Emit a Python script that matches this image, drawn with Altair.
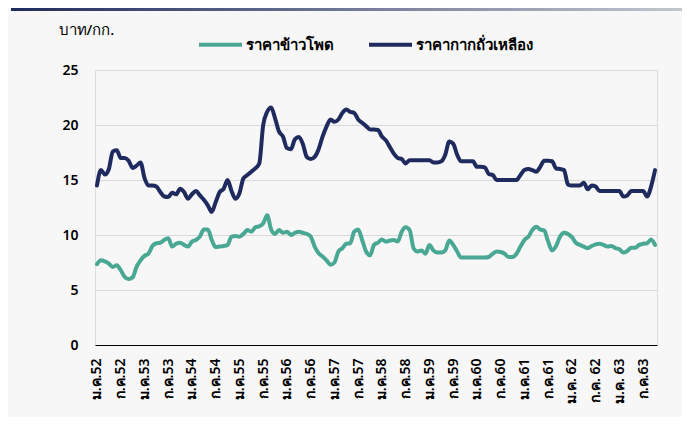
import altair as alt
import pandas as pd

# ---- data ----
series_names = ["ราคาข้าวโพด", "ราคากากถั่วเหลือง"]

corn = [
    7.35, 7.7, 7.6, 7.4, 7.1, 7.25, 6.8, 6.2, 6.0, 6.15, 7.1, 7.7,
    8.1, 8.3, 9.0, 9.25, 9.3, 9.55, 9.7, 8.95, 9.2, 9.3, 9.1, 8.95,
    9.4, 9.55, 9.85, 10.5, 10.5, 9.55, 8.9, 8.95, 9.0, 9.1, 9.85, 9.9,
    9.85, 10.1, 10.45, 10.3, 10.7, 10.8, 11.05, 11.8, 10.5, 10.1, 10.45, 10.2,
    10.3, 10.0, 10.2, 10.3, 10.2, 10.1, 9.85, 8.95, 8.35, 8.05, 7.7, 7.3,
    7.5, 8.5, 8.8, 9.2, 9.25, 10.3, 10.5, 9.55, 8.5, 8.15, 9.1, 9.3,
    9.6, 9.4, 9.5, 9.55, 9.4, 10.3, 10.7, 10.45, 8.8, 8.5, 8.6, 8.3,
    9.1, 8.6, 8.4, 8.4, 8.6, 9.5, 9.1, 8.5, 7.95, 7.95, 7.95, 7.95,
    7.95, 7.95, 7.95, 8.0, 8.3, 8.5, 8.45, 8.3, 8.0, 8.0, 8.3, 8.95,
    9.55, 9.85, 10.45, 10.75, 10.5, 10.4, 9.4, 8.6, 9.0, 9.85, 10.2, 10.1,
    9.8, 9.3, 9.1, 8.95, 8.8, 9.0, 9.15, 9.2, 9.1, 8.95, 9.0, 8.8,
    8.7, 8.4, 8.55, 8.85, 8.85, 9.1, 9.2, 9.25, 9.6, 9.1,
]

soymeal = [
    14.5, 15.9, 15.5, 16.0, 17.6, 17.7, 17.0, 17.0, 16.75, 16.1, 16.3, 16.6,
    15.2, 14.5, 14.5, 14.4, 13.9, 13.5, 13.45, 13.85, 13.7, 14.2, 13.9, 13.3,
    13.7, 14.0, 13.6, 13.2, 12.7, 12.1, 13.0, 13.9, 14.2, 15.0, 14.0, 13.3,
    13.8, 15.15, 15.45, 15.75, 16.05, 16.5, 20.0, 21.2, 21.6, 20.6, 19.4, 18.95,
    17.9, 17.8, 18.7, 18.9, 18.3, 17.1, 16.9, 17.1, 17.8, 18.95, 19.85, 20.5,
    20.3, 20.5, 21.1, 21.4, 21.2, 21.1, 20.5, 20.2, 19.9, 19.6, 19.6, 19.55,
    18.95, 18.6, 18.0, 17.4, 17.0, 16.9, 16.5, 16.8, 16.8, 16.8, 16.8, 16.8,
    16.8, 16.6, 16.6, 16.7, 17.3, 18.5, 18.3, 17.3, 16.7, 16.7, 16.7, 16.7,
    16.2, 16.2, 16.15, 15.55, 15.45, 15.0, 15.0, 15.0, 15.0, 15.0, 15.0, 15.45,
    15.9, 16.0, 15.9, 15.75, 16.2, 16.75, 16.75, 16.7, 16.05, 16.0, 15.9, 14.6,
    14.5, 14.5, 14.5, 14.75, 14.15, 14.5, 14.4, 14.0, 14.0, 14.0, 14.0, 14.0,
    14.0, 13.5, 13.6, 14.0, 14.0, 14.0, 14.0, 13.5, 14.4, 15.9,
]

tick_labels = [
    "ม.ค.52", "ก.ค.52", "ม.ค.53", "ก.ค.53", "ม.ค.54", "ก.ค.54",
    "ม.ค.55", "ก.ค.55", "ม.ค.56", "ก.ค.56", "ม.ค.57", "ก.ค.57",
    "ม.ค.58", "ก.ค.58", "ม.ค.59", "ก.ค.59", "ม.ค.60", "ก.ค.60",
    "ม.ค.61", "ก.ค.61", "ม.ค. 62", "ก.ค. 62", "ม.ค. 63", "ก.ค.63",
]

y_ticks = [0, 5, 10, 15, 20, 25]
colors = ["#48a894", "#1f2b5e"]

# ---- tables ----
n = len(corn)
df = pd.DataFrame({
    "idx": list(range(n)) * 2,
    "value": corn + soymeal,
    "series": [series_names[0]] * n + [series_names[1]] * n,
})
tick_pos = [i * 6 for i in range(len(tick_labels))]
label_expr = "[" + ",".join("'" + t + "'" for t in tick_labels) + "][round(datum.value/6)]"

FONT = "Noto Sans"

lines = alt.Chart(df).mark_line(strokeWidth=4, interpolate="monotone", strokeCap="round", strokeJoin="round").encode(
    x=alt.X("idx:Q",
            scale=alt.Scale(domain=[-0.5, n - 0.5], nice=False, zero=False),
            axis=alt.Axis(values=tick_pos, labelExpr=label_expr, labelAngle=270,
                          labelAlign="right", labelBaseline="middle",
                          labelFontSize=14, labelFontWeight=600,
                          labelColor="#000000", labelPadding=13,
                          ticks=False, grid=False, domainColor="#000000",
                          domainWidth=1.2, title=None, labelFont=FONT)),
    y=alt.Y("value:Q",
            scale=alt.Scale(domain=[0, 25], nice=False),
            axis=alt.Axis(values=y_ticks, ticks=False, domain=False, grid=True,
                          gridColor="#d9d9d9", gridWidth=1, labelFontSize=14,
                          labelFontWeight=600, labelColor="#000000", labelPadding=17,
                          labelFont=FONT,
                          title="บาท/กก.", titleAngle=0, titleAlign="left",
                          titleBaseline="middle", titleX=-37, titleY=-41,
                          titleFontSize=15, titleFontWeight=500,
                          titleColor="#000000", titleFont=FONT)),
    color=alt.Color("series:N",
                    scale=alt.Scale(domain=series_names, range=colors),
                    sort=series_names,
                    legend=alt.Legend(title=None, orient="none", direction="horizontal",
                                      legendX=102, legendY=-49,
                                      symbolType="stroke", symbolSize=1849,
                                      symbolStrokeWidth=4, labelFontSize=15,
                                      labelFontWeight=600,
                                      labelColor="#000000", labelOffset=2,
                                      columnPadding=27, labelFont=FONT)),
)

bar = alt.Chart(pd.DataFrame({"k": [0]})).mark_rect(
    color=alt.Gradient(gradient="linear",
                       stops=[alt.GradientStop(color="#1f2b5c", offset=0),
                              alt.GradientStop(color="#c6c8d0", offset=1)],
                       x1=0, x2=1, y1=0, y2=0)
).encode(x=alt.value(-84), x2=alt.value(594), y=alt.value(-62), y2=alt.value(-59))

chart = alt.layer(bar, lines).properties(
    width=562, height=275,
    autosize=alt.AutoSizeParams(type="none"),
    padding={"left": 87, "top": 62, "right": 25, "bottom": 72},
    background="#f7f7f7",
).configure_view(stroke=None).configure(font=FONT)

chart.save("out.html", embed_options={"renderer": "svg", "actions": False})
